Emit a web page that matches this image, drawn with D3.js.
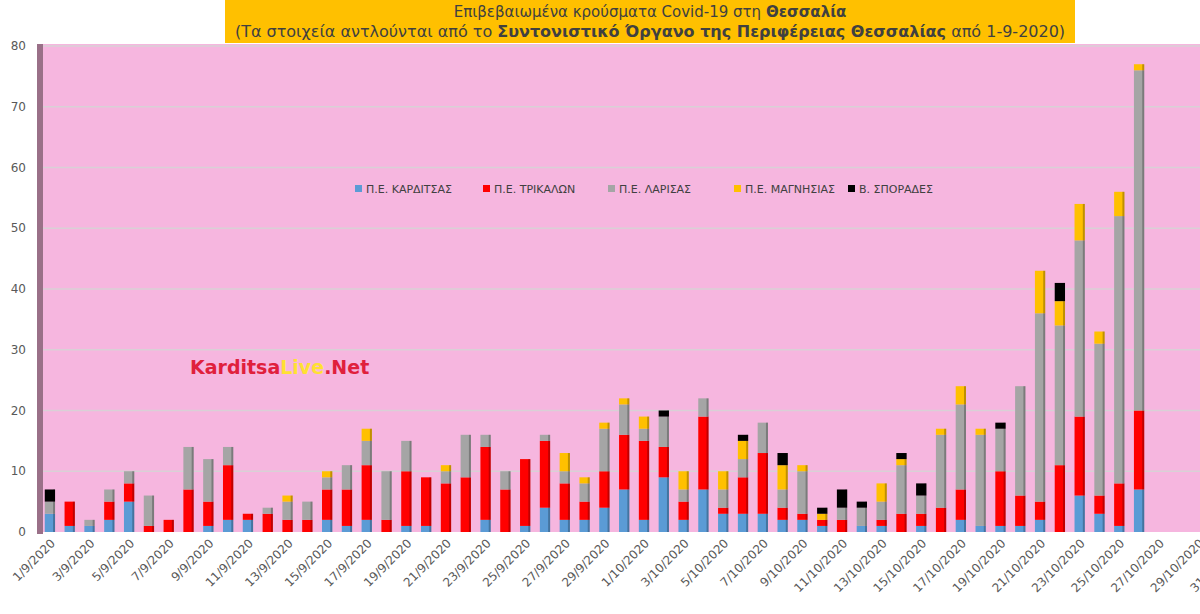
<!DOCTYPE html>
<html><head><meta charset="utf-8">
<script src="https://cdn.jsdelivr.net/npm/d3@7"></script>
<style>body{margin:0;background:#fff;font-family:"DejaVu Sans",sans-serif;}</style>
</head><body><svg id="chart" width="1200" height="614"></svg>
<script>
// dates 1/9/2020 .. 31/10/2020
const dates = [];
for (let d = 1; d <= 30; d++) dates.push(d + "/9/2020");
for (let d = 1; d <= 31; d++) dates.push(d + "/10/2020");

const seriesNames = ["Π.Ε. ΚΑΡΔΙΤΣΑΣ", "Π.Ε. ΤΡΙΚΑΛΩΝ", "Π.Ε. ΛΑΡΙΣΑΣ", "Π.Ε. ΜΑΓΝΗΣΙΑΣ", "Β. ΣΠΟΡΑΔΕΣ"];
const colors = ["#5B9BD5", "#FF0000", "#A5A5A5", "#FFC000", "#000000"];

// values 1/9 .. 26/10
const karditsa = [3,1,1,2,5,0,0,0,1,2,2,0,0,0,2,1,2,0,1,1,0,0,2,0,1,4,2,2,4,7,2,9,2,7,3,3,3,2,2,1,0,1,1,0,1,0,2,1,1,1,2,0,6,3,1,7];
const trikala  = [0,4,0,3,3,1,2,7,4,9,1,3,2,2,5,6,9,2,9,8,8,9,12,7,11,11,6,3,6,9,13,5,3,12,1,6,10,2,1,1,2,0,1,3,2,4,5,0,9,5,3,11,13,3,7,13];
const larisa   = [2,0,1,2,2,5,0,7,7,3,0,1,3,3,2,4,4,8,5,0,2,7,2,3,0,1,2,3,7,5,2,5,2,3,3,3,5,3,7,0,2,3,3,8,3,12,14,15,7,18,31,23,29,25,44,56];
const magnisia = [0,0,0,0,0,0,0,0,0,0,0,0,1,0,1,0,2,0,0,0,1,0,0,0,0,0,3,1,1,1,2,0,3,0,3,3,0,4,1,1,0,0,3,1,0,1,3,1,0,0,7,4,6,2,4,1];
const sporades = [2,0,0,0,0,0,0,0,0,0,0,0,0,0,0,0,0,0,0,0,0,0,0,0,0,0,0,0,0,0,0,1,0,0,0,1,0,2,0,1,3,1,0,1,2,0,0,0,1,0,0,3,0,0,0,0];
const yTicks = [0,10,20,30,40,50,60,70,80];

const allSeries = [karditsa, trikala, larisa, magnisia, sporades];
const rows = karditsa.map((_, i) => {
  const r = { date: dates[i] };
  allSeries.forEach((s, k) => r["s" + k] = s[i]);
  return r;
});
const keys = allSeries.map((_, k) => "s" + k);
const stacked = d3.stack().keys(keys)(rows);

const svg = d3.select("#chart");
const plot = { left: 40, right: 1248, top: 44, bottom: 532 };

const x = d3.scaleBand().domain(dates).range([plot.left, plot.right]).paddingInner(0.48).paddingOuter(0.24);
const y = d3.scaleLinear().domain([0, 80]).range([plot.bottom, plot.top + 2]);

// background
svg.append("rect").attr("x", plot.left).attr("y", plot.top).attr("width", 1200 - plot.left)
  .attr("height", plot.bottom - plot.top).attr("fill", "#F6B6DF");
svg.append("rect").attr("x", plot.left - 3).attr("y", plot.top).attr("width", 6)
  .attr("height", plot.bottom - plot.top + 2).attr("fill", "#9A7088");

// grid
svg.append("g").selectAll("line").data(yTicks.slice(1)).join("line")
  .attr("x1", plot.left + 3).attr("x2", 1200)
  .attr("y1", d => y(d)).attr("y2", d => y(d))
  .attr("stroke", "#D9D0D6").attr("stroke-width", 1.5);

// y labels
svg.append("g").selectAll("text").data(yTicks).join("text")
  .attr("x", 26).attr("y", d => y(d) + 4).attr("text-anchor", "end")
  .attr("font-size", 12).attr("fill", "#595959").text(d => d);

// bars
svg.append("g").selectAll("g").data(stacked).join("g")
  .attr("fill", (d, i) => colors[i])
  .selectAll("rect").data(d => d.filter(p => p[1] > p[0])).join("rect")
  .attr("x", d => x(d.data.date))
  .attr("width", x.bandwidth())
  .attr("y", d => y(d[1]))
  .attr("height", d => y(d[0]) - y(d[1]));
// shaded side for a 3D look
svg.append("g").selectAll("rect").data(rows).join("rect")
  .attr("x", d => x(d.date) + x.bandwidth() - 2).attr("width", 2)
  .attr("y", d => y(keys.reduce((a, k) => a + d[k], 0)))
  .attr("height", d => plot.bottom - y(keys.reduce((a, k) => a + d[k], 0)))
  .attr("fill", "#000").attr("opacity", 0.25);

// x labels (every second date)
svg.append("g").selectAll("text").data(dates.filter((d, i) => i % 2 === 0)).join("text")
  .attr("transform", d => `translate(${x(d) + x.bandwidth() / 2 + 6},${plot.bottom + 12}) rotate(-45)`)
  .attr("text-anchor", "end").attr("font-size", 12).attr("fill", "#595959").text(d => d);

// title
svg.append("rect").attr("x", 225).attr("y", 0).attr("width", 850).attr("height", 43).attr("fill", "#FFC000");
const t1 = svg.append("text").attr("x", 650).attr("y", 17).attr("text-anchor", "middle").attr("font-size", 15).attr("fill", "#404040");
t1.append("tspan").text("Επιβεβαιωμένα κρούσματα Covid-19 στη ");
t1.append("tspan").attr("font-weight", "bold").text("Θεσσαλία");
const t2 = svg.append("text").attr("x", 650).attr("y", 37).attr("text-anchor", "middle").attr("font-size", 16).attr("fill", "#404040");
t2.append("tspan").text("(Τα στοιχεία αντλούνται από το ");
t2.append("tspan").attr("font-weight", "bold").text("Συντονιστικό Όργανο της Περιφέρειας Θεσσαλίας");
t2.append("tspan").text(" από 1-9-2020)");

// legend
const legX = [355, 483, 608, 734, 848];
const leg = svg.append("g").selectAll("g").data(seriesNames).join("g")
  .attr("transform", (d, i) => `translate(${legX[i]},189)`);
leg.append("rect").attr("x", 0).attr("y", -4).attr("width", 7).attr("height", 7).attr("fill", (d, i) => colors[i]);
leg.append("text").attr("x", 11).attr("y", 4).attr("font-size", 11).attr("fill", "#404040").text(d => d);

// watermark
const wm = svg.append("text").attr("x", 190).attr("y", 374).attr("font-size", 19).attr("font-weight", "bold").attr("fill", "#E0203C");
wm.append("tspan").text("Karditsa");
wm.append("tspan").attr("fill", "#FFE033").text("Live");
wm.append("tspan").text(".Net");
</script></body></html>
